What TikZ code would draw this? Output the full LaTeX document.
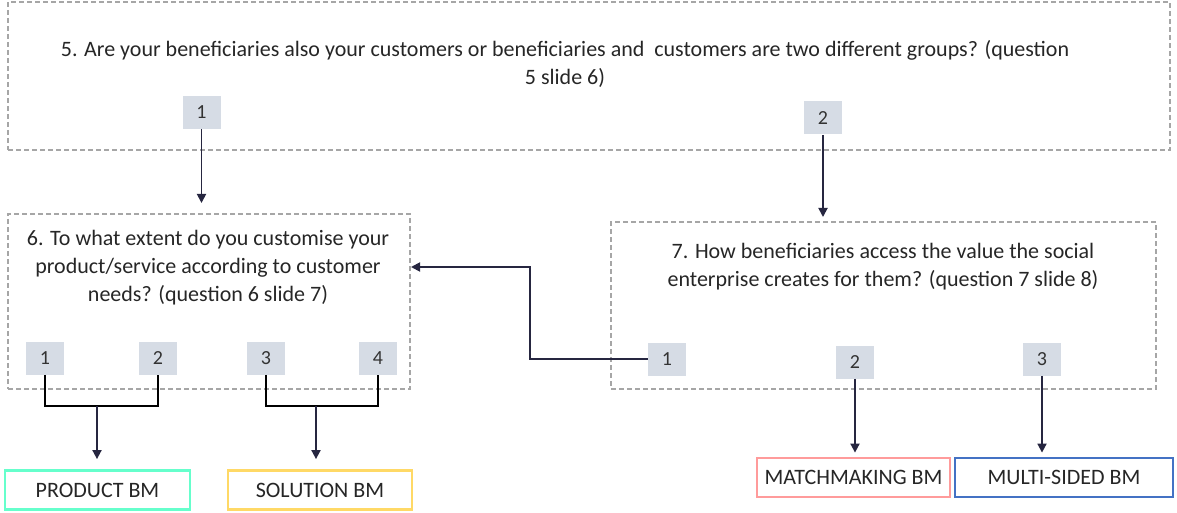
\documentclass[tikz,border=0pt]{standalone}
\usepackage{fontspec}
\setmainfont{Carlito}
\usetikzlibrary{arrows.meta, positioning}

\definecolor{dashgray}{HTML}{A6A6A6}
\definecolor{optfill}{HTML}{D6DCE5}
\definecolor{arrowink}{HTML}{262640}
\definecolor{prodc}{HTML}{66FFCC}
\definecolor{solc}{HTML}{FFD966}
\definecolor{matchc}{HTML}{FF9B9B}
\definecolor{multic}{HTML}{4472C4}

\tikzset{
  question/.style={draw=dashgray, line width=1pt, dash pattern=on 2.5pt off 1.5pt, inner sep=0pt},
  qtext/.style={align=center, font=\fontsize{11}{14}\selectfont, text=black!85},
  option/.style={fill=optfill, minimum width=19pt, minimum height=16.5pt, inner sep=0pt,
    font=\fontsize{10}{11}\selectfont, text=black!80},
  model/.style={draw=#1, line width=1.4pt, fill=white, minimum height=19.5pt, inner sep=0pt,
    font=\fontsize{11}{12}\selectfont, text=black!85},
  flow/.style={draw=arrowink, line width=0.9pt, -{Triangle[length=4.5pt,width=4.5pt]}},
  bracket/.style={draw=black, line width=1pt}
}

\begin{document}
\begin{tikzpicture}[x=0.5pt, y=-0.5pt]
\useasboundingbox (0,0) rectangle (1177,513);

% question 5
\node [question, minimum width=581pt, minimum height=74pt] (q5) at (589,76) {};
\node [qtext] (q5txt) at (565,64) {5. Are your beneficiaries also your customers or beneficiaries and\ \ customers are two different groups? (question\\ 5 slide 6)};
\node [option] (q5a) at (201.5,112.5) {1};
\node [option] (q5b) at (823,118) {2};

% question 6
\node [question, minimum width=201pt, minimum height=87.5pt] (q6) at (209,301.5) {};
\node [qtext] (q6txt) at (208,268) {6. To what extent do you customise your\\ product/service according to customer\\ needs? (question 6 slide 7)};
\node [option] (q6a) at (45,358) {1};
\node [option] (q6b) at (158,358) {2};
\node [option] (q6c) at (266,358) {3};
\node [option] (q6d) at (378,358) {4};

% question 7
\node [question, minimum width=272.5pt, minimum height=83.5pt] (q7) at (883.5,305.5) {};
\node [qtext] (q7txt) at (883,267) {7. How beneficiaries access the value the social\\ enterprise creates for them? (question 7 slide 8)};
\node [option] (q7a) at (667,359) {1};
\node [option] (q7b) at (855,362) {2};
\node [option] (q7c) at (1042,359) {3};

% business models
\node [model=prodc, minimum width=92.5pt] (prod) at (97.5,490) {PRODUCT BM};
\node [model=solc, minimum width=92pt] (sol) at (320,490) {SOLUTION BM};
\node [model=matchc, minimum width=96.5pt] (match) at (853.5,477.5) {MATCHMAKING BM};
\node [model=multic, minimum width=109pt] (multi) at (1064,477.5) {MULTI-SIDED BM};

% links from question 5
\draw [flow] (q5a.south) -- (q5a.south |- q6.north) [shorten >=5pt];
\draw [flow] (q5b.south) -- (q5b.south |- q7.north) [shorten >=2pt];

% brackets under question 6
\coordinate (j12) at (97,406);
\coordinate (j34) at (316,406);
\draw [bracket] (q6a.south) |- (j12) -| (q6b.south);
\draw [bracket] (q6c.south) |- (j34) -| (q6d.south);
\draw [flow, shorten >=5pt] (j12) -- (j12 |- prod.north);
\draw [flow, shorten >=5pt] (j34) -- (j34 |- sol.north);

% links from question 7
\draw [flow] (q7a.west) -| (530,267) -- (q6.east |- 0,267);
\draw [flow, shorten >=2pt] (q7b.south) -- (q7b.south |- match.north);
\draw [flow, shorten >=2pt] (q7c.south) -- (q7c.south |- multi.north);
\end{tikzpicture}
\end{document}
